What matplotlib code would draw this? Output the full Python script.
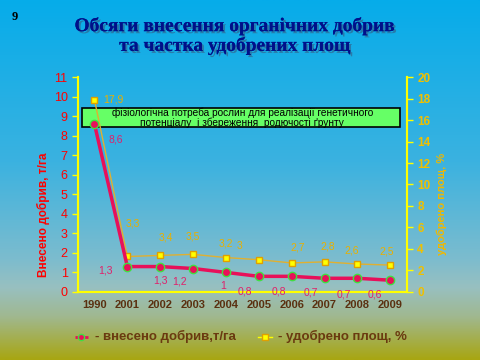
import numpy as np
import matplotlib.pyplot as plt
import matplotlib.patheffects as pe
from matplotlib.colors import LinearSegmentedColormap
from matplotlib.patches import Rectangle

plt.rcParams['font.family'] = ['Liberation Sans', 'DejaVu Sans']

# дані
years = ['1990', '2001', '2002', '2003', '2004', '2005', '2006', '2007', '2008', '2009']
dobryva = [8.6, 1.3, 1.3, 1.2, 1.0, 0.8, 0.8, 0.7, 0.7, 0.6]
ploshcha = [17.9, 3.3, 3.4, 3.5, 3.2, 3.0, 2.7, 2.8, 2.6, 2.5]
dobryva_txt = ['8,6', '1,3', '1,3', '1,2', '1', '0,8', '0,8', '0,7', '0,7', '0,6']
ploshcha_txt = ['17,9', '3,3', '3,4', '3,5', '3,2', '3', '2,7', '2,8', '2,6', '2,5']

# зсуви підписів (в пунктах)
off_d = [(15, -11), (-16, -3), (0, -10), (-10, -9), (-2, -10), (-10, -11), (-9, -11), (-10, -10), (-10, -12), (-11, -10)]
off_p = [(14, 0), (4, 24), (4, 13), (0, 13), (0, 10), (-14, 10), (4, 11), (2, 11), (-4, 10), (-3, 10)]

fig = plt.figure(figsize=(4.8, 3.6), dpi=100)

# фон з градієнтом
bg = fig.add_axes([0, 0, 1, 1], zorder=-10)
cmap = LinearSegmentedColormap.from_list('bg', [
    (0.0, '#06ACEA'), (0.45, '#3BB2E0'), (0.72, '#7CBCCE'),
    (0.80, '#98C0C0'), (0.88, '#A0B890'), (1.0, '#A8A612')])
grad = np.linspace(0, 1, 256).reshape(-1, 1)
bg.imshow(grad, aspect='auto', cmap=cmap, extent=[0, 1, 0, 1], origin='upper')
bg.axis('off')

fig.text(0.025, 0.945, '9', fontsize=9, fontweight='bold', family='Liberation Serif', color='black')
fig.text(0.49, 0.9, 'Обсяги внесення органічних добрив\nта частка удобрених площ',
         ha='center', va='center', fontsize=14, fontweight='bold', family='Liberation Serif',
         color='#00108A', linespacing=1.12,
         path_effects=[pe.withSimplePatchShadow(offset=(1.5, -1.5), shadow_rgbFace='#404060', alpha=0.45),
                       pe.Normal()])

ax = fig.add_axes([0.1625, 0.189, 0.685, 0.597])
ax2 = ax.twinx()
ax.set_zorder(ax2.get_zorder() + 1)
ax.patch.set_visible(False)
ax2.patch.set_visible(False)

x = np.arange(len(years))

# зелена рамка з текстом (під лініями)
ax2.add_patch(Rectangle((0.012, 0.767), 0.967, 0.089, transform=ax2.transAxes,
                        fc='#66FF66', ec='black', lw=1.2, zorder=1))
ax2.text(0.5, 0.811, 'фізіологічна потреба рослин для реалізації генетичного\n'
         'потенціалу  і збереження  родючості ґрунту',
         transform=ax2.transAxes, ha='center', va='center', fontsize=7.3, color='black',
         linespacing=0.95, zorder=2)

ax2.plot(x, ploshcha, color='#E0B030', lw=1, marker='s', ms=4.5,
         mfc='#FFFF00', mec='#E0A000', mew=1, zorder=3)
ax.plot(x, dobryva, color='#E8105A', lw=2.5, marker='o', ms=6,
        mfc='#E8105A', mec='#40E040', mew=1, zorder=4)

for xi, v, t, o in zip(x, dobryva, dobryva_txt, off_d):
    ax.annotate(t, (xi, v), xytext=o, textcoords='offset points', ha='center', va='center',
                fontsize=7.5, color='#E0206A')
for xi, v, t, o in zip(x, ploshcha, ploshcha_txt, off_p):
    ax2.annotate(t, (xi, v), xytext=o, textcoords='offset points', ha='center', va='center',
                 fontsize=7.5, color='#E8B000')

ax.set_xlim(-0.5, len(years) - 0.5)
ax.set_ylim(0, 11)
ax2.set_ylim(0, 20)
ax.set_yticks(range(0, 12))
ax2.set_yticks(range(0, 21, 2))
ax.set_xticks(x)
ax.set_xticklabels(years, fontsize=8, fontweight='bold', color='#5A3010')
ax.tick_params(axis='x', length=0, pad=6)
ax.tick_params(axis='y', colors='#FFFF00', labelcolor='#FF0000', labelsize=9, length=4, width=1)
ax2.tick_params(axis='y', colors='#FFFF00', labelcolor='#F0C000', labelsize=8.5, length=4, width=1)
for lab in ax2.get_yticklabels():
    lab.set_fontweight('bold')

for a in (ax, ax2):
    a.spines['top'].set_visible(False)
    for s in ('left', 'right', 'bottom'):
        a.spines[s].set_color('#FFFF00')
        a.spines[s].set_linewidth(1.5)

ax.set_ylabel('Внесено добрив, т/га', fontsize=8.5, fontweight='bold', color='#FF0000')
ax.yaxis.set_label_coords(-0.085, 0.36)
ax2.set_ylabel('удобрено площ, %', fontsize=8, fontweight='bold', color='#F0B800', rotation=90)
ax2.yaxis.set_label_coords(1.09, 0.41)

# легенда
fig.lines.append(plt.Line2D([0.156, 0.183], [0.064, 0.064], transform=fig.transFigure,
                            color='#E8105A', lw=2, ls=(0, (2, 1))))
fig.lines.append(plt.Line2D([0.1695], [0.064], transform=fig.transFigure,
                            marker='o', ms=4.5, mfc='#E8105A', mec='#40E040', ls='none'))
fig.lines.append(plt.Line2D([0.538, 0.567], [0.064, 0.064], transform=fig.transFigure,
                            color='#FFFF00', lw=1))
fig.lines.append(plt.Line2D([0.5525], [0.064], transform=fig.transFigure,
                            marker='s', ms=4.5, mfc='#FFFF00', mec='#E0A000', ls='none'))
fig.text(0.198, 0.064, '- внесено добрив,т/га', fontsize=9.5, fontweight='bold',
         color='#6A3A10', va='center')
fig.text(0.579, 0.064, '- удобрено площ, %', fontsize=9.5, fontweight='bold',
         color='#6A3A10', va='center')

fig.savefig('out.png', dpi=100)
